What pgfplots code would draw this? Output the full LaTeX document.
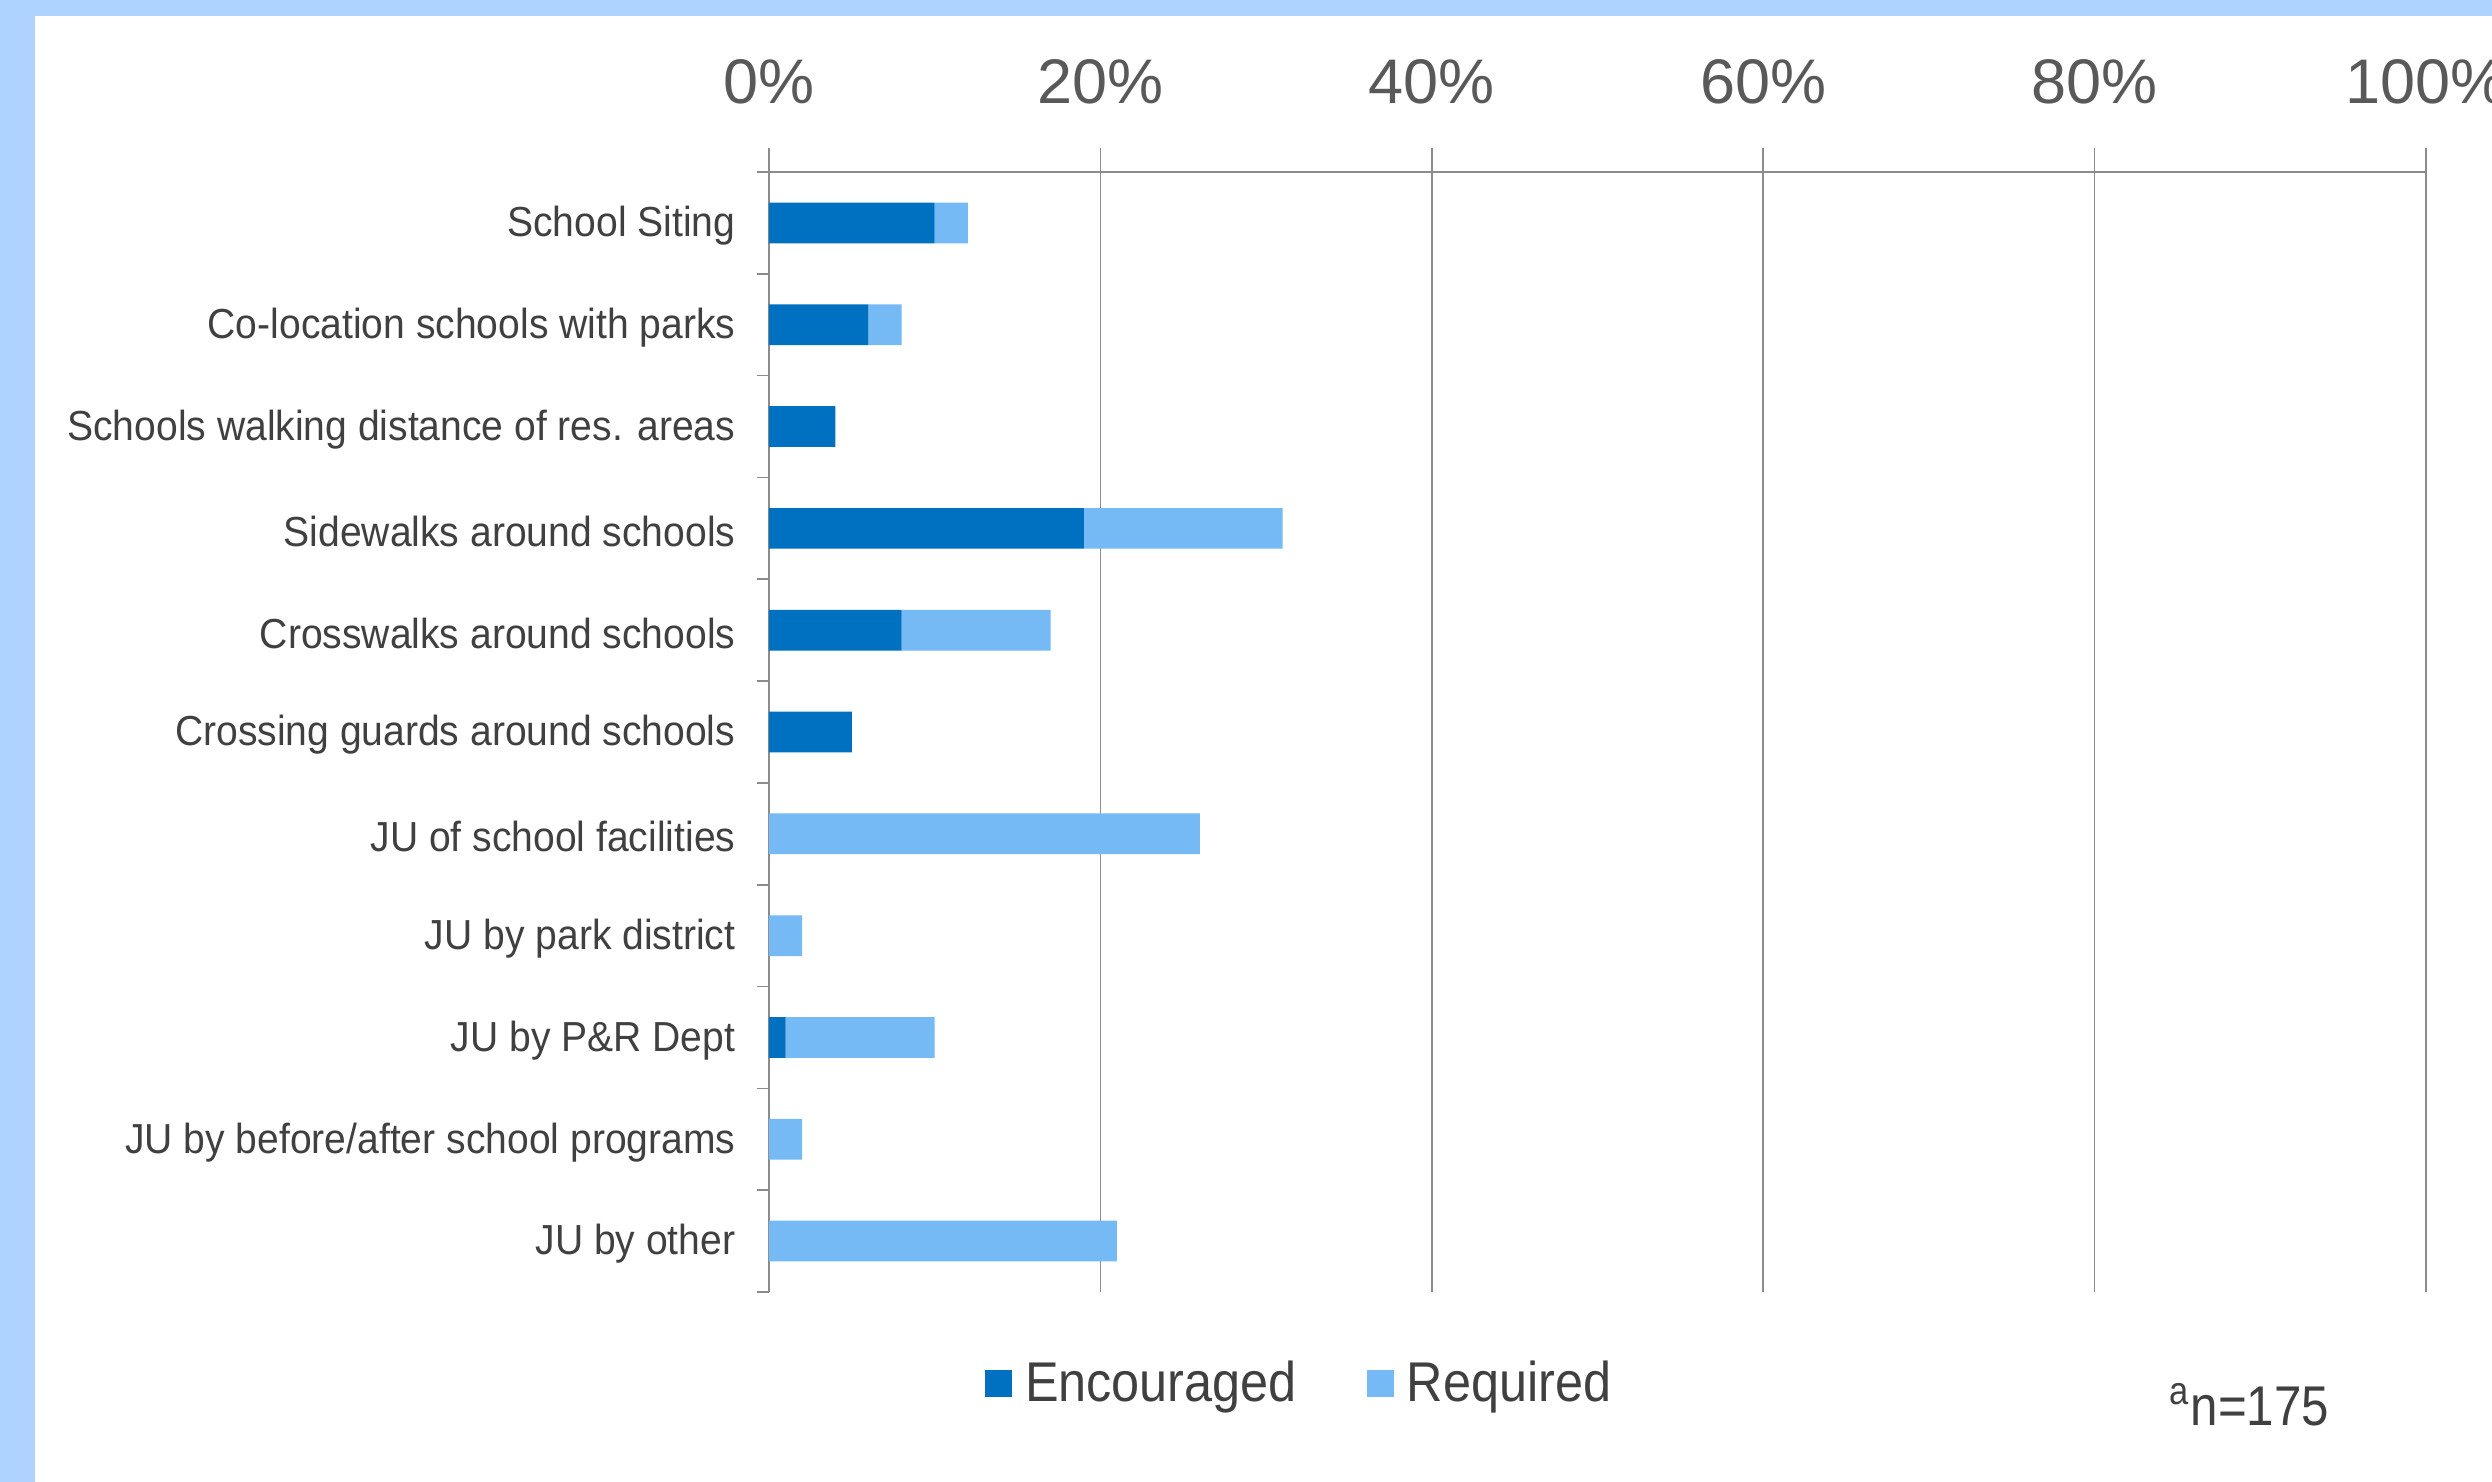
\documentclass[border=0pt]{standalone}
\usepackage{pgfplots}
\pgfplotsset{compat=1.18}
\usepackage{fontspec}
\setmainfont{Liberation Sans}
\newfontfamily\lblfont[FakeStretch=0.93]{Liberation Sans}
\newfontfamily\legfont[FakeStretch=0.9]{Liberation Sans}
\newfontfamily\nfont[FakeStretch=0.88]{Liberation Sans}
\definecolor{band}{RGB}{174,211,255}
\definecolor{enc}{RGB}{0,112,192}
\definecolor{req}{RGB}{118,186,245}
\definecolor{gridc}{RGB}{140,140,140}
\definecolor{txt}{RGB}{64,64,64}
\definecolor{ticktxt}{RGB}{89,89,89}
\pgfplotsset{sqlegend/.style={legend image code/.code={\fill[##1] (0pt,-4.05pt) rectangle (8.1pt,4.05pt); \path (10pt,0pt);}}}
\begin{document}
\begin{tikzpicture}[x=0.3pt,y=0.3pt]
\useasboundingbox (0,0) rectangle (2492,1482);
\clip (0,0) rectangle (2492,1482);
\fill[white] (0,0) rectangle (2492,1482);
\fill[band] (0,0) rectangle (35,1482);
\fill[band] (0,1466) rectangle (2492,1482);
\begin{axis}[
  at={(230.7pt,57pt)}, anchor=south west,
  scale only axis, width=497.1pt, height=336pt,
  xmin=0, xmax=100, ymin=-0.5, ymax=10.5, y dir=reverse,
  xbar stacked, bar width=0.4,
  clip=false,
  axis x line*=top, axis y line*=left,
  axis line style={gridc, line width=0.5pt},
  every tick/.style={gridc, line width=0.5pt},
  every major y tick/.style={draw=none},
  xtick={0,20,40,60,80,100},
  xticklabels={0\%,20\%,40\%,60\%,80\%,100\%},
  xmajorgrids, major grid style={gridc, line width=0.5pt},
  tick align=outside,
  major tick length=7.2pt, minor tick length=3.6pt,
  ytick={0,...,10},
  minor ytick={-0.5,0.5,...,10.5},
  yticklabels={School Siting, Co-location schools with parks, Schools walking distance of res. areas, Sidewalks around schools, Crosswalks around schools, Crossing guards around schools, {JU of school facilities\ }, JU by park district, JU by P\&R Dept, JU by before/after school programs, JU by other},
  yticklabel style={font=\lblfont\fontsize{12.6}{15}\selectfont, text=txt, inner sep=0pt, xshift=-2.7pt, yshift=-0.9pt},
  xticklabel style={font=\fontsize{18.9}{22}\selectfont, text=ticktxt, inner sep=0pt, yshift=12.9pt},
  legend style={at={(0.130,-0.082)}, anchor=west, draw=none, fill=none, legend columns=2,
    font=\legfont\fontsize{16.8}{20}\selectfont, text=txt, inner sep=0pt,
    /tikz/every even column/.append style={column sep=19pt}},
]
\addplot[fill=enc, draw=none, sqlegend] coordinates {(10,0) (6,1) (4,2) (19,3) (8,4) (5,5) (0,6) (0,7) (1,8) (0,9) (0,10)};
\addplot[fill=req, draw=none, sqlegend] coordinates {(2,0) (2,1) (0,2) (12,3) (9,4) (0,5) (26,6) (2,7) (9,8) (2,9) (21,10)};
\legend{Encouraged, Required}
\node[anchor=base west, font=\nfont\fontsize{16.8}{20}\selectfont, text=txt, inner sep=0pt] at (axis description cs:0.845,-0.119) {\textsuperscript{a}n=175};
\end{axis}
\end{tikzpicture}
\end{document}
